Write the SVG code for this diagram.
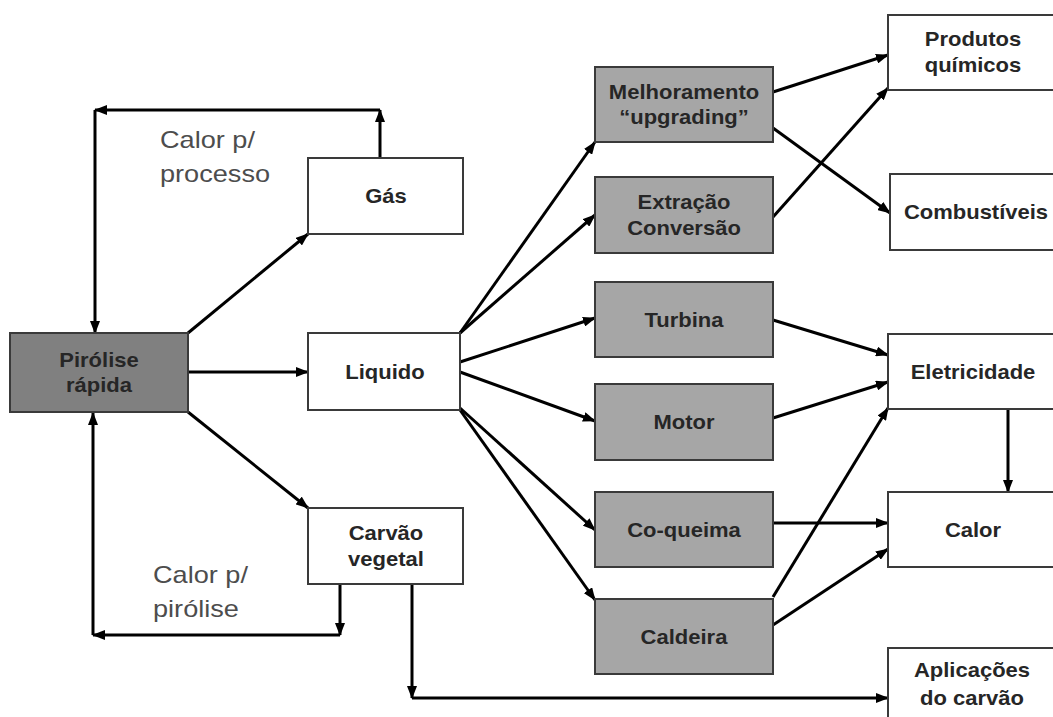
<svg xmlns="http://www.w3.org/2000/svg" width="1053" height="717" viewBox="0 0 1053 717">
<style>
.box{stroke:#3a3a3a;stroke-width:2;fill:#fff}
.dark{fill:#808080}
.mid{fill:#a6a6a6}
.nt{font-family:"Liberation Sans",Arial,sans-serif;font-weight:bold;font-size:20px;fill:#262626;text-anchor:middle}
.lt{font-family:"Liberation Sans",Arial,sans-serif;font-size:23px;fill:#4d4d4d}
.c{stroke:#000;stroke-width:3;fill:none;marker-end:url(#ah)}
</style>
<defs>
<marker id="ah" markerUnits="userSpaceOnUse" markerWidth="13" markerHeight="10" refX="12" refY="5" orient="auto">
<path d="M0,0 L13,5 L0,10 z" fill="#000"/>
</marker>
</defs>
<rect width="1053" height="717" fill="#fff"/>
<g id="connectors">
<path class="c" d="M188,333 L308,234"/>
<path class="c" d="M188,372 L308,372"/>
<path class="c" d="M188,412 L308,508"/>
<path class="c" d="M380,158 L380,110"/>
<path class="c" d="M380,110 L95,110"/>
<path class="c" d="M95,110 L95,333"/>
<path class="c" d="M340,584 L340,635"/>
<path class="c" d="M340,635 L93,635"/>
<path class="c" d="M93,635 L93,413"/>
<path class="c" d="M412,584 L412,698"/>
<path class="c" d="M412,698 L888,698"/>
<path class="c" d="M460,333 L595,142"/>
<path class="c" d="M460,333 L595,215"/>
<path class="c" d="M460,362 L595,318"/>
<path class="c" d="M460,372 L595,421"/>
<path class="c" d="M460,408 L595,530"/>
<path class="c" d="M460,410 L595,600"/>
<path class="c" d="M773,92 L888,55"/>
<path class="c" d="M773,128 L890,213"/>
<path class="c" d="M773,217 L888,88"/>
<path class="c" d="M773,320 L888,355"/>
<path class="c" d="M773,418 L888,382"/>
<path class="c" d="M773,597 L888,408"/>
<path class="c" d="M773,523 L888,523"/>
<path class="c" d="M773,625 L888,549"/>
<path class="c" d="M1008,409 L1008,492"/>
</g>
<g id="label-processo">
<text class="lt" transform="translate(160 148) scale(1.18 1)">Calor p/</text>
<text class="lt" transform="translate(160 182) scale(1.18 1)">processo</text>
</g>
<g id="label-pirolise">
<text class="lt" transform="translate(153 583) scale(1.18 1)">Calor p/</text>
<text class="lt" transform="translate(153 617) scale(1.18 1)">pirólise</text>
</g>
<g id="pirolise">
<rect class="box dark" x="10" y="333" width="178" height="79"/>
<text class="nt" transform="translate(99 367) scale(1.1 1)">Pirólise</text>
<text class="nt" transform="translate(99 392) scale(1.1 1)">rápida</text>
</g>
<g id="gas">
<rect class="box" x="308" y="158" width="155" height="76"/>
<text class="nt" transform="translate(386 203) scale(1.1 1)">Gás</text>
</g>
<g id="liquido">
<rect class="box" x="308" y="333" width="152" height="77"/>
<text class="nt" transform="translate(385 379) scale(1.1 1)">Liquido</text>
</g>
<g id="carvao">
<rect class="box" x="308" y="508" width="155" height="76"/>
<text class="nt" transform="translate(386 540) scale(1.1 1)">Carvão</text>
<text class="nt" transform="translate(386 566) scale(1.1 1)">vegetal</text>
</g>
<g id="melhoramento">
<rect class="box mid" x="595" y="67" width="178" height="75"/>
<text class="nt" transform="translate(684 99) scale(1.1 1)">Melhoramento</text>
<text class="nt" transform="translate(684 124) scale(1.1 1)">“upgrading”</text>
</g>
<g id="extracao">
<rect class="box mid" x="595" y="177" width="178" height="76"/>
<text class="nt" transform="translate(684 209) scale(1.1 1)">Extração</text>
<text class="nt" transform="translate(684 235) scale(1.1 1)">Conversão</text>
</g>
<g id="turbina">
<rect class="box mid" x="595" y="282" width="178" height="75"/>
<text class="nt" transform="translate(684 327) scale(1.1 1)">Turbina</text>
</g>
<g id="motor">
<rect class="box mid" x="595" y="384" width="178" height="76"/>
<text class="nt" transform="translate(684 429) scale(1.1 1)">Motor</text>
</g>
<g id="coqueima">
<rect class="box mid" x="595" y="492" width="178" height="75"/>
<text class="nt" transform="translate(684 537) scale(1.1 1)">Co-queima</text>
</g>
<g id="caldeira">
<rect class="box mid" x="595" y="599" width="178" height="75"/>
<text class="nt" transform="translate(684 644) scale(1.1 1)">Caldeira</text>
</g>
<g id="produtos">
<rect class="box" x="888" y="15" width="175" height="75"/>
<text class="nt" transform="translate(973 46) scale(1.1 1)">Produtos</text>
<text class="nt" transform="translate(973 72) scale(1.1 1)">químicos</text>
</g>
<g id="combustiveis">
<rect class="box" x="890" y="174" width="175" height="76"/>
<text class="nt" transform="translate(976 219) scale(1.1 1)">Combustíveis</text>
</g>
<g id="eletricidade">
<rect class="box" x="888" y="334" width="175" height="75"/>
<text class="nt" transform="translate(973 379) scale(1.1 1)">Eletricidade</text>
</g>
<g id="calor">
<rect class="box" x="888" y="492" width="175" height="75"/>
<text class="nt" transform="translate(973 537) scale(1.1 1)">Calor</text>
</g>
<g id="aplicacoes">
<rect class="box" x="888" y="648" width="175" height="80"/>
<text class="nt" transform="translate(972 677) scale(1.1 1)">Aplicações</text>
<text class="nt" transform="translate(972 705) scale(1.1 1)">do carvão</text>
</g>
</svg>
